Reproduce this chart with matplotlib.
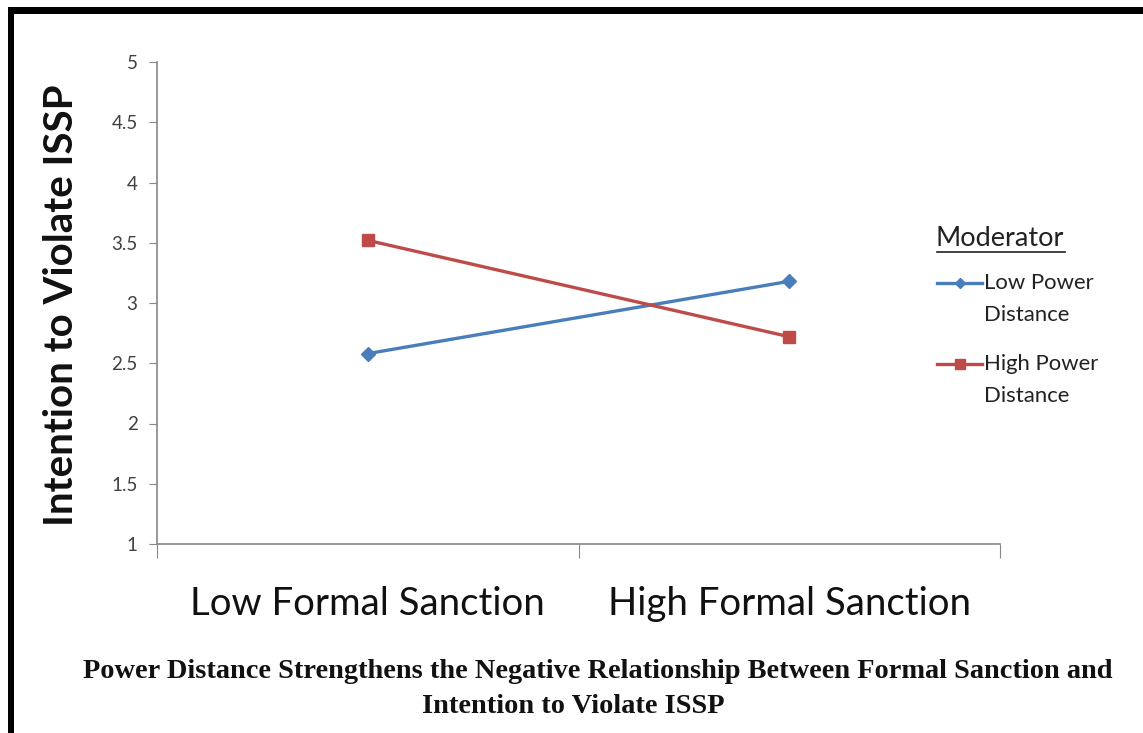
import matplotlib
matplotlib.use("Agg")
import matplotlib.pyplot as plt
from matplotlib.patches import Rectangle
from matplotlib.lines import Line2D

categories = ["Low Formal Sanction", "High Formal Sanction"]
low_pd = [2.58, 3.18]
high_pd = [3.52, 2.72]
series_names = ["Low Power\nDistance", "High Power\nDistance"]
y_ticks = [1, 1.5, 2, 2.5, 3, 3.5, 4, 4.5, 5]
y_tick_labels = ["1", "1.5", "2", "2.5", "3", "3.5", "4", "4.5", "5"]
y_label = "Intention to Violate ISSP"
legend_title = "Moderator"
caption_lines = ["Power Distance Strengthens the Negative Relationship Between Formal Sanction and",
                 "Intention to Violate ISSP"]

W, H = 1143, 733
fig = plt.figure(figsize=(W / 100, H / 100), dpi=100)
fig.patch.set_facecolor("white")

sans = ["Lato", "DejaVu Sans"]
serif = ["Liberation Serif", "DejaVu Serif"]

ax = fig.add_axes([157 / W, 1 - 544 / H, (1000 - 157) / W, (544 - 62) / H])

xpos = [0.5, 1.5]
blue = "#4A7EBB"
red = "#BE4B48"
ax.plot(xpos, low_pd, color=blue, lw=2.4, marker="D", ms=7.5, mec=blue, mfc=blue, zorder=3)
ax.plot(xpos, high_pd, color=red, lw=2.4, marker="s", ms=8.5, mec=red, mfc=red, zorder=3)

ax.set_xlim(0, 2)
ax.set_ylim(1, 5)
ax.set_yticks(y_ticks)
ax.set_yticklabels(y_tick_labels, fontfamily=sans, fontsize=13.5, color="#404040")
ax.set_xticks([0, 1, 2])
ax.set_xticklabels([])
ax.set_xticks(xpos, minor=True)
ax.set_xticklabels(categories, minor=True, fontfamily=sans, fontsize=27.6, color="#111111")
ax.tick_params(axis="x", which="minor", length=0, pad=30)
ax.tick_params(axis="x", which="major", length=10, color="#888888", direction="out")
ax.tick_params(axis="y", length=5.5, color="#888888", direction="out", pad=8.5)

for s in ("top", "right"):
    ax.spines[s].set_visible(False)
for s in ("left", "bottom"):
    ax.spines[s].set_color("#888888")
    ax.spines[s].set_linewidth(1.2)

fig.text(62 / W, 1 - 305 / H, y_label, rotation=90, ha="center", va="center",
         fontfamily=sans, fontweight="bold", fontsize=29, color="#111111")

# legend drawn by hand: underlined title, then two entries
fig.text(936 / W, 1 - 238 / H, legend_title, ha="left", va="center",
         fontfamily=sans, fontsize=19.5, color="#222222")
fig.add_artist(Line2D([937 / W, 1065 / W], [1 - 252 / H, 1 - 252 / H],
                      color="#222222", lw=1.2, transform=fig.transFigure))
entries = [(series_names[0], blue, "D", 283, 5), (series_names[1], red, "s", 364, 6.5)]
for name, col, mk, yy, ms in entries:
    fig.add_artist(Line2D([937 / W, 982 / W], [1 - yy / H, 1 - yy / H], color=col, lw=2.4,
                          transform=fig.transFigure))
    fig.add_artist(Line2D([959.5 / W], [1 - yy / H], color=col, marker=mk, ms=ms, mec=col,
                          mfc=col, transform=fig.transFigure, lw=0))
    fig.text(984 / W, 1 - (yy + 16) / H, name, ha="left", va="center", fontfamily=sans,
             fontsize=15.9, color="#222222", linespacing=1.7)

# two-line caption under the chart
for line, cx, base in zip(caption_lines, [597.5, 573.5], [678, 713]):
    fig.text(cx / W, 1 - base / H, line, ha="center", va="baseline", fontfamily=serif,
             fontweight="bold", fontsize=20.4, color="#111111")

# heavy frame along the top and left edges
fig.add_artist(Rectangle((8 / W, 0), 6 / W, 1 - 7 / H, transform=fig.transFigure,
                         color="black", lw=0))
fig.add_artist(Rectangle((8 / W, 1 - 14 / H), 1 - 8 / W, 7 / H, transform=fig.transFigure,
                         color="black", lw=0))

fig.savefig("out.png", dpi=100)
